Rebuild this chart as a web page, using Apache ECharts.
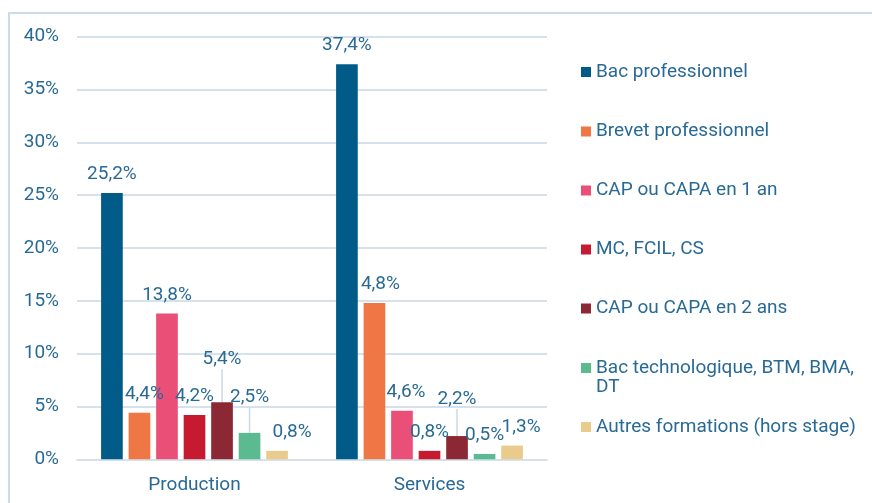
<!DOCTYPE html>
<html>
<head>
    <meta charset="utf-8">
    <title>Répartition par formation</title>
    <script src="https://cdn.jsdelivr.net/npm/echarts@6/dist/echarts.min.js"></script>
    <style>
        html, body { margin: 0; padding: 0; background: #fff; }
        #main { width: 872px; height: 503px; }
    </style>
</head>
<body>
<div id="main"></div>

<script type="text/javascript">
    const categories = ['Production', 'Services'];
    const formations = ['Bac professionnel', 'Brevet professionnel', 'CAP ou CAPA en 1 an', 'MC, FCIL, CS',
        'CAP ou CAPA en 2 ans', 'Bac technologique, BTM, BMA,\nDT', 'Autres formations (hors stage)'];
    const bacPro = [25.2, 37.4];
    const brevetPro = [4.4, 14.8];
    const cap1an = [13.8, 4.6];
    const mcFcilCs = [4.2, 0.8];
    const cap2ans = [5.4, 2.2];
    const bacTechno = [2.5, 0.5];
    const autres = [0.8, 1.3];
    const couleurs = ['#005b88', '#ef7746', '#e94f77', '#c61a31', '#8b2833', '#5bba8f', '#e9cc8d'];
    // dans l'original le "1" de 14,8% est caché par la barre voisine
    const libelleBrevetServices = '4,8%';

    const valeurs = [bacPro, brevetPro, cap1an, mcFcilCs, cap2ans, bacTechno, autres];
    const texte = '#286a95';
    const grille = '#d5e2eb';

    // décalages des étiquettes [dx, dy] par série puis catégorie
    const decalages = [
        [[0, 0], [0, 0]],
        [[5, 0], [6, 0]],
        [[0, 0], [4, 0]],
        [[0, 0], [0, 0]],
        [[0, -24], [0, -18]],
        [[0, -17], [0, 0]],
        [[15, 0], [9, 0]]
    ];
    const centresLegende = [72, 131.5, 190.5, 249.5, 308.5, 368, 427];

    const chart = echarts.init(document.getElementById('main'));

    const fmt = v => v.toFixed(1).replace('.', ',') + '%';

    const series = formations.map((nom, s) => ({
        name: nom,
        type: 'bar',
        barGap: '27%',
        barCategoryGap: '20.5%',
        itemStyle: {color: couleurs[s]},
        label: {
            show: true,
            position: 'top',
            distance: 9,
            color: texte,
            fontSize: 19,
            fontFamily: 'Roboto',
            formatter: p => fmt(p.value)
        },
        labelLayout: p => ({dx: decalages[s][p.dataIndex][0], dy: decalages[s][p.dataIndex][1]}),
        data: valeurs[s].map((v, i) => {
            const item = {value: v};
            if (s === 1 && i === 1) item.label = {formatter: libelleBrevetServices};
            if (decalages[s][i][1] !== 0) {
                item.labelLine = {show: true, lineStyle: {color: '#c9d9e5', width: 1.5}};
            }
            return item;
        })
    }));

    // une légende par entrée ; pour le libellé sur deux lignes, la suite est posée en dessous
    const suites = [];
    const legendes = formations.map((nom, i) => {
        const lignes = nom.split('\n');
        if (lignes.length > 1) {
            suites.push({
                type: 'text',
                left: 596,
                top: centresLegende[i] + 10,
                silent: true,
                style: {text: lignes.slice(1).join('\n'), fill: texte, font: '19px Roboto'}
            });
        }
        return {
            data: [nom],
            orient: 'vertical',
            left: 581,
            top: centresLegende[i] - 10,
            padding: 0,
            icon: 'rect',
            itemWidth: 10,
            itemHeight: 10,
            selectedMode: false,
            formatter: n => n.split('\n')[0],
            textStyle: {color: texte, fontSize: 19, fontFamily: 'Roboto', lineHeight: 20}
        };
    });

    const option = {
        animation: false,
        textStyle: {fontFamily: 'Roboto'},
        grid: {left: 77, right: 325, top: 36.7, bottom: 43.7},
        legend: legendes,
        graphic: [{
            type: 'rect',
            silent: true,
            z: -1,
            shape: {x: 9, y: 13, width: 900, height: 600},
            style: {fill: 'none', stroke: '#c9dce7', lineWidth: 2}
        }].concat(suites),
        xAxis: {
            type: 'category',
            data: categories,
            axisTick: {show: false},
            axisLine: {lineStyle: {color: grille, width: 2}},
            axisLabel: {color: texte, fontSize: 19, fontFamily: 'Roboto', margin: 16}
        },
        yAxis: {
            type: 'value',
            min: 0,
            max: 40,
            interval: 5,
            axisLine: {show: false},
            axisTick: {show: false},
            splitLine: {lineStyle: {color: grille, width: 2}},
            axisLabel: {color: texte, fontSize: 19, fontFamily: 'Roboto', margin: 18, formatter: '{value}%'}
        },
        series: series
    };

    chart.setOption(option);
</script>
</body>
</html>
